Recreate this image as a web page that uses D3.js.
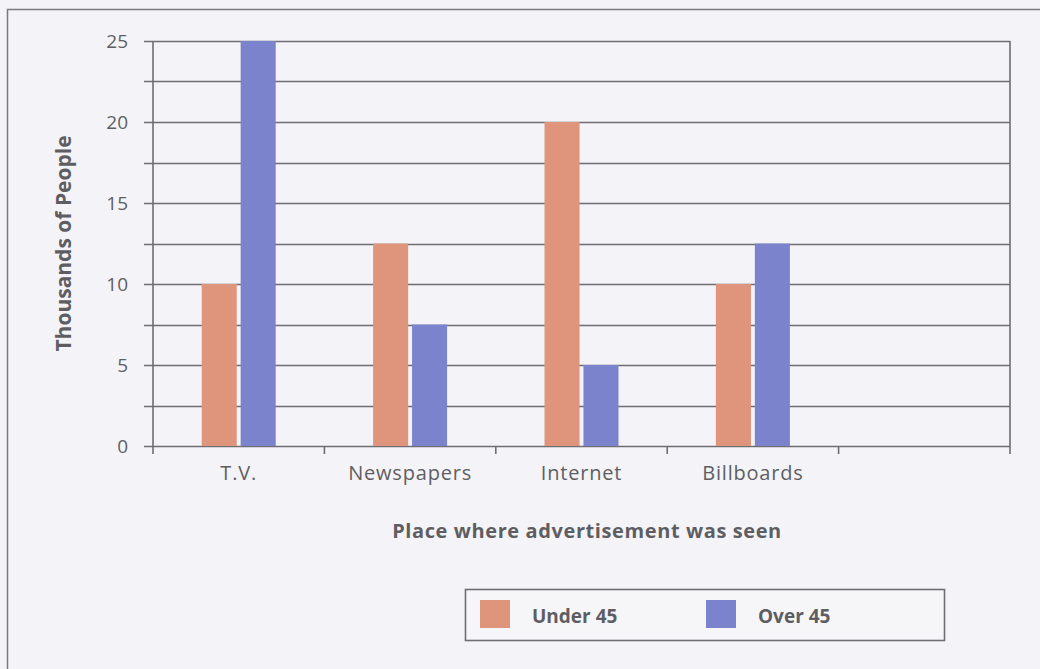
<!DOCTYPE html>
<html>
<head>
<meta charset="utf-8">
<script src="https://cdn.jsdelivr.net/npm/d3@7"></script>
<style>
  html, body { margin: 0; padding: 0; background: #f4f4f8; }
  svg { display: block; }
  text { font-family: "Open Sans", "Noto Sans", sans-serif; }
</style>
</head>
<body>
<div id="chart"></div>
<script>
  const width = 1040;
  const height = 669;

  // ===== Dados =====
  const categories = ["T.V.", "Newspapers", "Internet", "Billboards", ""];
  const series = ["Under 45", "Over 45"];
  const under45 = [10, 12.5, 20, 10];
  const over45 = [25, 7.5, 5, 12.5];
  const yTicks = [0, 5, 10, 15, 20, 25];
  const gridValues = [0, 2.5, 5, 7.5, 10, 12.5, 15, 17.5, 20, 22.5, 25];

  const colors = { "Under 45": "#de957b", "Over 45": "#7b83cd" };
  const lineColor = "#6e6e72";
  const textColor = "#5e5e62";

  const margin = { left: 153, right: 30, top: 41, bottom: 223 };

  const svg = d3.select("#chart").append("svg")
    .attr("width", width)
    .attr("height", height);

  // moldura externa
  svg.append("rect")
    .attr("x", 7.5).attr("y", 9.5)
    .attr("width", width + 10).attr("height", height)
    .attr("fill", "#f4f4f8")
    .attr("stroke", "#7a7a7e")
    .attr("stroke-width", 1.5);

  const x = d3.scaleBand()
    .domain(categories)
    .range([margin.left, width - margin.right])
    .paddingInner(0).paddingOuter(0);

  const y = d3.scaleLinear()
    .domain([0, 25])
    .range([height - margin.bottom, margin.top]);

  const x1 = d3.scaleBand()
    .domain(series)
    .range([0, 74])
    .paddingInner(0.1);

  // grade
  svg.append("g")
    .selectAll("line")
    .data(gridValues)
    .join("line")
    .attr("x1", margin.left - 9)
    .attr("x2", width - margin.right)
    .attr("y1", d => Math.round(y(d)) + 0.5)
    .attr("y2", d => Math.round(y(d)) + 0.5)
    .attr("stroke", lineColor)
    .attr("stroke-width", 1.6);

  // eixos verticais
  [margin.left, width - margin.right].forEach(xx => {
    svg.append("line")
      .attr("x1", xx).attr("x2", xx)
      .attr("y1", y(25)).attr("y2", y(0) + 8)
      .attr("stroke", lineColor)
      .attr("stroke-width", 1.6);
  });

  // eixo y
  const yAxis = svg.append("g")
    .attr("transform", `translate(${margin.left},0)`)
    .call(d3.axisLeft(y).tickValues(yTicks).tickSize(0).tickPadding(25));
  yAxis.select(".domain").remove();
  yAxis.selectAll("text")
    .attr("fill", textColor)
    .style("font-size", "19px");

  // eixo x
  const xAxis = svg.append("g")
    .attr("transform", `translate(0,${y(0)})`)
    .call(d3.axisBottom(x).tickSize(0).tickPadding(20));
  xAxis.select(".domain").remove();
  xAxis.selectAll("text")
    .attr("fill", textColor)
    .style("font-size", "20px")
    .style("letter-spacing", "0.8px");

  // marcas entre categorias
  svg.append("g")
    .selectAll("line")
    .data(categories.slice(1))
    .join("line")
    .attr("x1", d => x(d)).attr("x2", d => x(d))
    .attr("y1", y(0)).attr("y2", y(0) + 8)
    .attr("stroke", lineColor)
    .attr("stroke-width", 1.6);

  // barras
  const rows = categories.slice(0, 4).map((c, i) => ({
    category: c,
    values: [
      { key: "Under 45", value: under45[i] },
      { key: "Over 45", value: over45[i] }
    ]
  }));

  svg.append("g")
    .selectAll("g")
    .data(rows)
    .join("g")
    .attr("transform", d => `translate(${x(d.category) + x.bandwidth() / 2 - 37},0)`)
    .selectAll("rect")
    .data(d => d.values)
    .join("rect")
    .attr("x", d => x1(d.key))
    .attr("width", x1.bandwidth())
    .attr("y", d => y(d.value))
    .attr("height", d => y(0) - y(d.value))
    .attr("fill", d => colors[d.key]);

  // títulos
  svg.append("text")
    .attr("transform", `translate(71,${(y(0) + y(25)) / 2}) rotate(-90)`)
    .attr("text-anchor", "middle")
    .attr("fill", textColor)
    .style("font-size", "21px")
    .style("font-weight", "bold")
    .text("Thousands of People");

  svg.append("text")
    .attr("x", 587)
    .attr("y", 538)
    .attr("text-anchor", "middle")
    .attr("fill", textColor)
    .style("font-size", "20px")
    .style("font-weight", "bold")
    .style("letter-spacing", "0.6px")
    .text("Place where advertisement was seen");

  // legenda
  const legend = svg.append("g");
  legend.append("rect")
    .attr("x", 465.5).attr("y", 589.5)
    .attr("width", 479).attr("height", 51)
    .attr("fill", "#f6f6f9")
    .attr("stroke", lineColor)
    .attr("stroke-width", 1.6);

  const legendX = [480, 706];
  series.forEach((s, i) => {
    legend.append("rect")
      .attr("x", legendX[i]).attr("y", 600)
      .attr("width", 30).attr("height", 28)
      .attr("fill", colors[s]);
    legend.append("text")
      .attr("x", legendX[i] + 52)
      .attr("y", 623)
      .attr("fill", textColor)
      .style("font-size", "19px")
      .style("font-weight", "bold")
      .text(s);
  });
</script>
</body>
</html>
